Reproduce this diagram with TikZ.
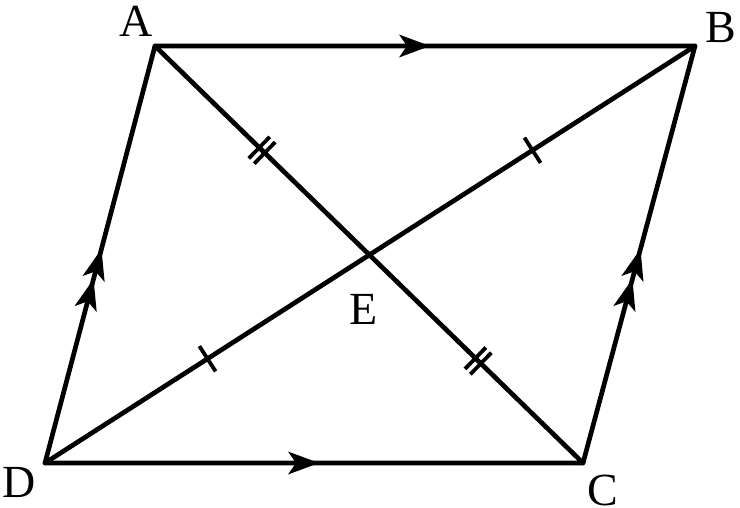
\documentclass[tikz,border=0pt]{standalone}
\usepackage{fontspec}
\setmainfont{Liberation Serif}
\usetikzlibrary{calc}
\tikzset{
  x=1pt,y=-1pt,
  edge/.style={line width=4.7pt,line cap=round,line join=round},
  tickmark/.style={line width=3.8pt},
  lab/.style={font=\fontsize{46}{46}\selectfont,inner sep=0pt,anchor=base},
  head/.pic={\fill[black] (3,0) -- (-28,-11.5) -- (-20,0) -- (-28,11.5) -- cycle;},
  onetick/.pic={\draw[tickmark] (0,-15) -- (0,15);},
  twotick/.pic={\draw[tickmark] (-3.8,-15) -- (-3.8,15) (3.8,-15) -- (3.8,15);}
}
\begin{document}
\begin{tikzpicture}
\useasboundingbox (0,0) rectangle (740,507);
\fill[white] (0,0) rectangle (740,507);
\coordinate (A) at (155,46);
\coordinate (B) at (695,46);
\coordinate (C) at (583,463);
\coordinate (D) at (45,463);
\coordinate (E) at (370,255);
\node[lab] (la) at (136,36) {A};
\node[lab] (lb) at (720.5,42) {B};
\node[lab] (lc) at (603,505) {C};
\node[lab] (ld) at (19,497) {D};
\node[lab] (le) at (363.5,324) {E};
\draw[edge] (A) -- (B) -- (C) -- (D) -- cycle;
\draw[edge] (A) -- (C);
\draw[edge] (B) -- (D);
\path (A) -- (B) pic[pos=0.5037,sloped] {head};
\path (D) -- (C) pic[pos=0.5037,sloped] {head};
\path (D) -- (A) pic[pos=0.506,sloped] {head} pic[pos=0.434,sloped] {head};
\path (C) -- (B) pic[pos=0.506,sloped] {head} pic[pos=0.434,sloped] {head};
\path (A) -- (C) pic[pos=0.25,sloped] {twotick} pic[pos=0.755,sloped] {twotick};
\path (D) -- (B) pic[pos=0.25,sloped] {onetick} pic[pos=0.75,sloped] {onetick};
\end{tikzpicture}
\end{document}
